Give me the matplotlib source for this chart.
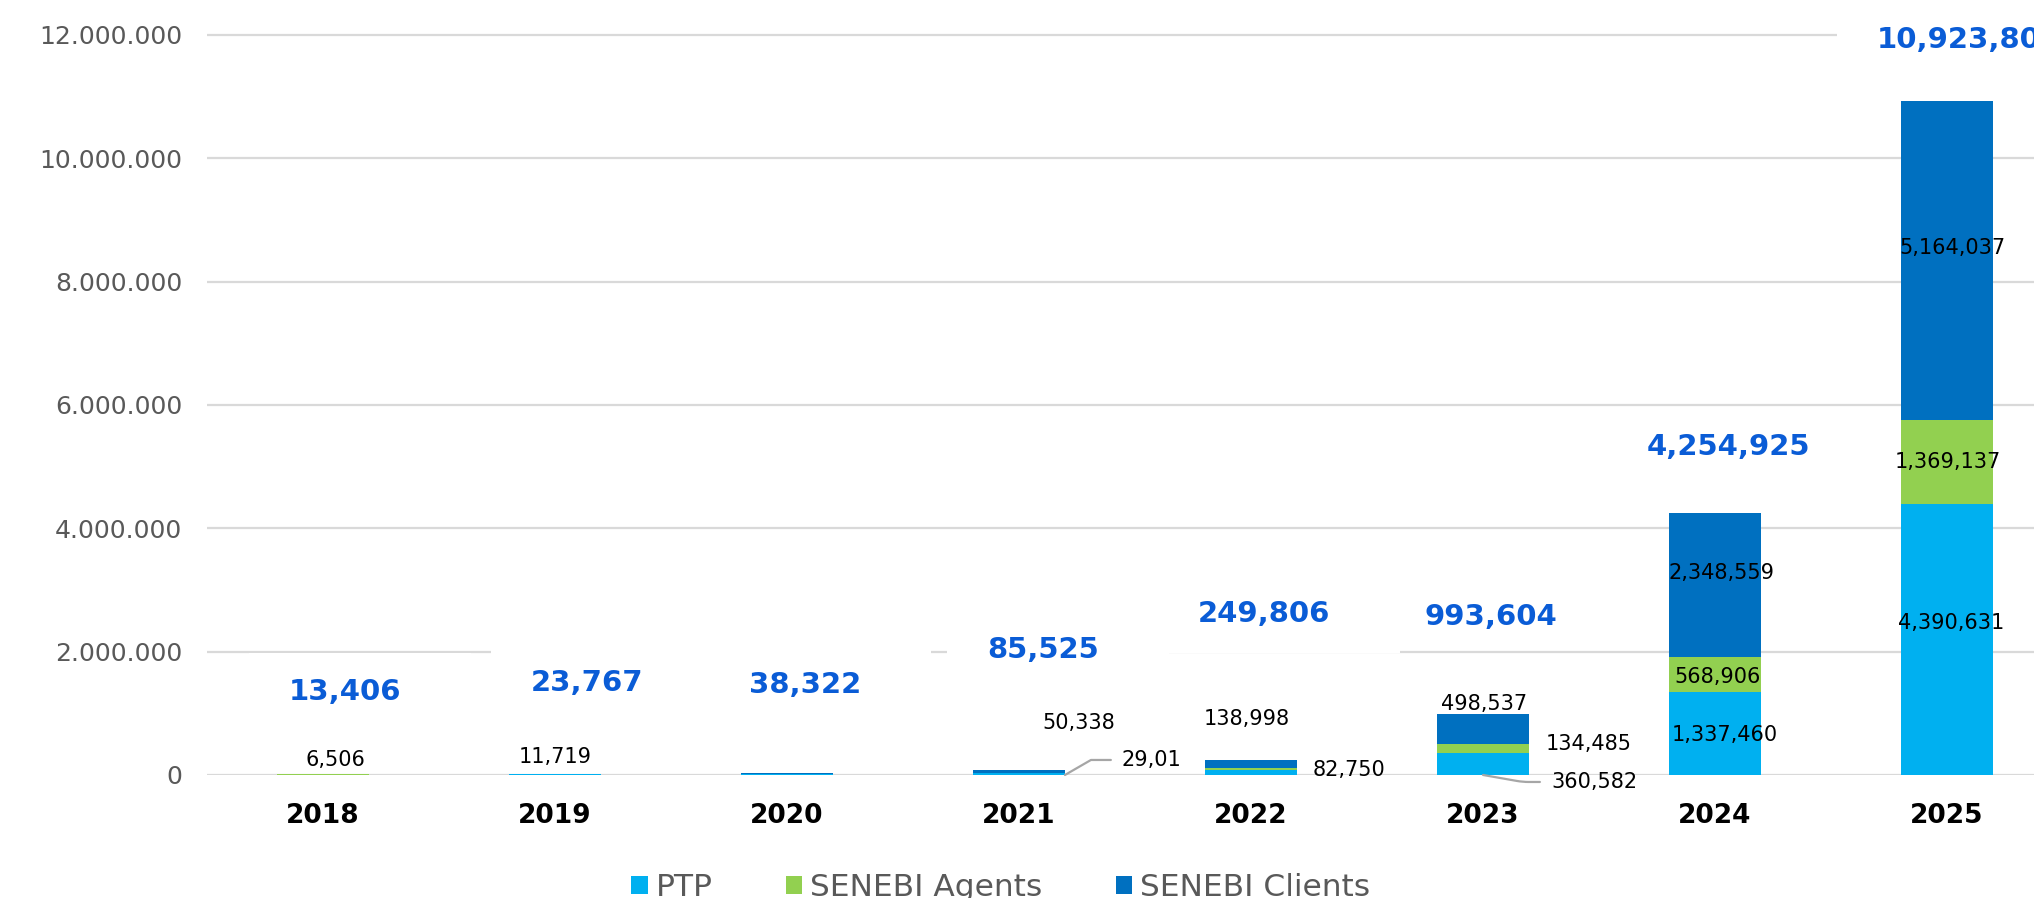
import matplotlib.pyplot as plt
from matplotlib.patches import Patch, Rectangle
from matplotlib.ticker import FuncFormatter
import numpy as np

# yearly volumes per channel
years = ['2018', '2019', '2020', '2021', '2022', '2023', '2024', '2025']
ptp = [6506, 11719, 20384, 29017, 82750, 360582, 1337460, 4390631]
agents = [6900, 0, 0, 6170, 28058, 134485, 568906, 1369137]
clients = [0, 12048, 17938, 50338, 138998, 498537, 2348559, 5164037]
series_names = ['PTP', 'SENEBI Agents', 'SENEBI Clients']
series_colors = ['#00B0F0', '#92D050', '#0070C0']
y_ticks = [0, 2000000, 4000000, 6000000, 8000000, 10000000, 12000000]

series = [ptp, agents, clients]
totals = np.sum(series, axis=0)

plt.rcParams['font.family'] = 'DejaVu Sans'

fig = plt.figure(figsize=(20.34, 8.98), dpi=100)
ax = fig.add_axes([0.1018, 0.1370, 0.8982, 0.8618])

x = np.arange(len(years))
bottoms = np.zeros(len(years))
for vals, name, col in zip(series, series_names, series_colors):
    ax.bar(x, vals, width=0.4, bottom=bottoms, color=col, linewidth=0,
           label=name, zorder=2)
    bottoms = bottoms + np.array(vals)

ax.set_xlim(-0.5, -0.5 + 1827 / 232)
ax.set_ylim(0, 12.55e6)
ax.set_yticks(y_ticks)
ax.yaxis.set_major_formatter(FuncFormatter(lambda v, p: f'{v:,.0f}'.replace(',', '.')))
ax.set_xticks(x)
ax.set_xticklabels(years, fontsize=19, fontweight='bold', color='black')
ax.tick_params(axis='y', length=0, pad=18, labelsize=18, labelcolor='#595959')
ax.tick_params(axis='x', length=0, pad=20)
ax.yaxis.grid(True, color='#D9D9D9', linewidth=1.6)
ax.set_axisbelow(True)
for s in ax.spines.values():
    s.set_visible(False)

# segment labels: (year, series, anchor, dx, dy, ha) - offsets in pixels
seg_labels = [
    (0, 0, 'top', 12, 14, 'center'),
    (1, 0, 'top', 0, 17, 'center'),
    (3, 2, 'top', 60, 47, 'center'),
    (4, 2, 'top', -4, 41, 'center'),
    (4, 0, 'mid', 62, 2, 'left'),
    (5, 2, 'top', 1, 10, 'center'),
    (5, 1, 'mid', 63, 5, 'left'),
    (6, 2, 'mid', 6, 12, 'center'),
    (6, 1, 'mid', 3, -2, 'center'),
    (6, 0, 'mid', 10, -1, 'center'),
    (7, 2, 'mid', 5, 13, 'center'),
    (7, 1, 'mid', 1, 0, 'center'),
    (7, 0, 'mid', 4, 17, 'center'),
]
for i, k, anchor, dx, dy, ha in seg_labels:
    base = sum(series[j][i] for j in range(k))
    val = series[k][i]
    y = totals[i] if anchor == 'top' else base + val / 2
    ax.annotate(f'{val:,}', xy=(i, y), xytext=(dx, dy), textcoords='offset pixels',
                ha=ha, va='center', fontsize=15, color='black', zorder=4)

# labels pulled out with leader lines
lead_style = dict(arrowstyle='-', color='#A6A6A6', lw=1.6, shrinkA=6, shrinkB=0,
                  relpos=(0, 0.5))
# the label box of this one is too narrow, so the last digit is cut off
ax.annotate(f'{ptp[3]:,}'[:5], xy=(3 + 0.198, 0), xytext=(57, 15),
            textcoords='offset pixels', ha='left', va='center', fontsize=15,
            arrowprops=dict(connectionstyle='angle,angleA=0,angleB=30,rad=0',
                            **lead_style), zorder=4)
ax.annotate(f'{ptp[5]:,}', xy=(5, 0), xytext=(68, -7),
            textcoords='offset pixels', ha='left', va='center', fontsize=15,
            arrowprops=dict(connectionstyle='angle,angleA=0,angleB=-10,rad=6',
                            **lead_style), zorder=4)

# totals above the bars
total_offsets = [(22, 82), (32, 91), (18, 88), (24, 120), (13, 146), (8, 97),
                 (13, 66), (22, 61)]
total_texts = []
for i, (dx, dy) in enumerate(total_offsets):
    t = ax.annotate(f'{totals[i]:,}', xy=(i, totals[i]), xytext=(dx, dy),
                    textcoords='offset pixels', ha='center', va='center',
                    fontsize=21, fontweight='bold', color='#0A5CD6', zorder=5)
    total_texts.append(t)

# white label boxes hide the gridline behind the totals
fig.canvas.draw()
inv = ax.transData.inverted()
for i, t in enumerate(total_texts):
    if years[i] == '2023':
        continue
    bb = t.get_window_extent()
    cy = (bb.y0 + bb.y1) / 2
    (x0, y0) = inv.transform((bb.x0 - 40, cy - 39))
    (x1, y1) = inv.transform((bb.x1 + 70, cy + 39))
    ax.add_patch(Rectangle((x0, y0), x1 - x0, y1 - y0, facecolor='white',
                           edgecolor='none', zorder=1))

handles = [Patch(facecolor=c, edgecolor='none', label=n)
           for n, c in zip(series_names, series_colors)]
fig.legend(handles=handles, loc='center', bbox_to_anchor=(0.492, 0.012), ncol=3,
           frameon=False, fontsize=22.5, labelcolor='#595959', handlelength=0.52,
           handleheight=0.52, handletextpad=0.26, columnspacing=2.34, borderpad=0)

fig.savefig('out.png', dpi=100)
